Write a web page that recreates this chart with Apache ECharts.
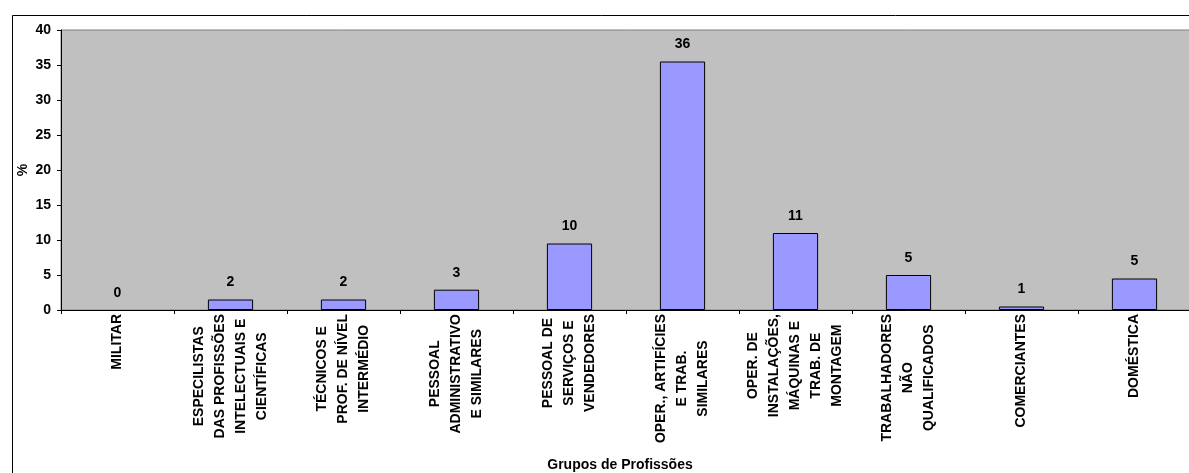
<!DOCTYPE html>
<html>
<head>
<meta charset="utf-8">
<script src="https://cdn.jsdelivr.net/npm/echarts@6/dist/echarts.min.js"></script>
<style>
  html, body { margin: 0; padding: 0; background: #ffffff; }
  #chart { width: 1189px; height: 473px; }
</style>
</head>
<body>
<div id="chart"></div>
<script>
// Occupational groups (line breaks as they are set on the axis)
const categories = [
  'MILITAR',
  'ESPECILISTAS\nDAS PROFISSÕES\nINTELECTUAIS E\nCIENTÍFICAS',
  'TÉCNICOS E\nPROF. DE NÍVEL\nINTERMÉDIO',
  'PESSOAL\nADMINISTRATIVO\nE SIMILARES',
  'PESSOAL DE\nSERVIÇOS E\nVENDEDORES',
  'OPER., ARTIFÍCIES\nE TRAB.\nSIMILARES',
  'OPER. DE\nINSTALAÇÕES,\nMÁQUINAS E\nTRAB. DE\nMONTAGEM',
  'TRABALHADORES\nNÃO\nQUALIFICADOS',
  'COMERCIANTES',
  'DOMÉSTICA'
];

// Share of each group, in %
const percentValues = [0, 1.5, 1.5, 2.9, 9.5, 35.5, 11, 5, 0.5, 4.5];

// Value axis ticks
const yMin = 0;
const yMax = 40;
const yStep = 5;

const xTitle = 'Grupos de Profissões';
const yTitle = '%';

const FONT = '"Liberation Sans", Arial, sans-serif';

// an empty group gets no outline
const barData = percentValues.map(function (v) {
  return v === 0 ? { value: v, itemStyle: { borderWidth: 0 } } : v;
});

const chart = echarts.init(document.getElementById('chart'), null, { renderer: 'canvas' });

chart.setOption({
  backgroundColor: '#ffffff',
  animation: false,
  textStyle: { fontFamily: FONT, color: '#000000' },
  graphic: [
    {
      // chart frame
      type: 'rect',
      left: 10, top: 13,
      shape: { x: 0, y: 0, width: 1200, height: 500 },
      style: { fill: 'none', stroke: '#000000', lineWidth: 1 },
      silent: true,
      z: -1
    }
  ],
  grid: {
    left: 61,
    top: 30,
    width: 1130,
    height: 280,
    show: true,
    backgroundColor: '#C0C0C0',
    borderColor: '#808080',
    borderWidth: 1,
    containLabel: false,
    outerBoundsMode: 'none'
  },
  xAxis: {
    type: 'category',
    data: categories,
    boundaryGap: true,
    name: xTitle,
    nameLocation: 'middle',
    nameGap: 148,
    nameMoveOverlap: false,
    nameTextStyle: {
      fontFamily: FONT, fontWeight: 'bold', fontSize: 14, color: '#000000',
      padding: [0, 12, 0, 0]
    },
    axisLine: { show: true, lineStyle: { color: '#000000', width: 1 } },
    axisTick: { show: true, alignWithLabel: false, length: 4, inside: false, lineStyle: { color: '#000000' } },
    axisLabel: {
      interval: 0,
      rotate: 90,
      margin: 4,
      hideOverlap: false,
      fontFamily: FONT,
      fontWeight: 'bold',
      fontSize: 14,
      color: '#000000',
      lineHeight: 21,
      formatter: function (value) {
        return value.split('\n').map(function (line) { return '{c|' + line + '}'; }).join('\n');
      },
      rich: {
        c: {
          align: 'center',
          fontFamily: FONT,
          fontWeight: 'bold',
          fontSize: 14,
          lineHeight: 21,
          color: '#000000'
        }
      }
    },
    splitLine: { show: false }
  },
  yAxis: {
    type: 'value',
    min: yMin,
    max: yMax,
    interval: yStep,
    name: yTitle,
    nameLocation: 'middle',
    nameRotate: 90,
    nameGap: 31,
    nameMoveOverlap: false,
    nameTextStyle: { fontFamily: FONT, fontWeight: 'bold', fontSize: 14, color: '#000000' },
    axisLine: { show: true, lineStyle: { color: '#000000', width: 1 } },
    axisTick: { show: true, length: 4, inside: false, lineStyle: { color: '#000000' } },
    axisLabel: {
      margin: 10,
      fontFamily: FONT,
      fontWeight: 'bold',
      fontSize: 14,
      color: '#000000'
    },
    splitLine: { show: false }
  },
  series: [
    {
      type: 'bar',
      data: barData,
      barWidth: '40%',
      itemStyle: {
        color: '#9999FF',
        borderColor: '#000000',
        borderWidth: 1
      },
      label: {
        show: true,
        position: 'top',
        distance: 10,
        fontFamily: FONT,
        fontWeight: 'bold',
        fontSize: 14,
        color: '#000000',
        formatter: function (p) { return String(Math.round(p.value)); }
      }
    }
  ]
});
</script>
</body>
</html>
